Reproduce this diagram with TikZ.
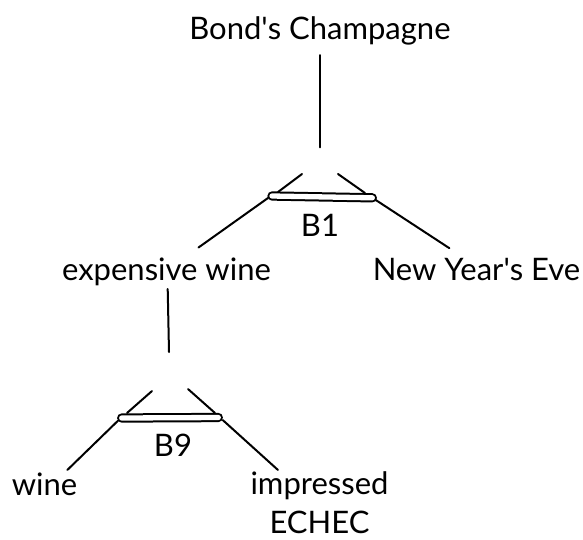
\documentclass[tikz,border=0pt]{standalone}
\usepackage{fontspec}
\setmainfont{Lato}
\begin{document}
\begin{tikzpicture}[x=1pt,y=-1pt,
  lbl/.style={anchor=base,inner sep=0pt,font=\fontsize{31}{39}\selectfont},
  wire/.style={line width=2pt,line cap=round},
  conjbar/.style={line width=2pt,double=white,double distance=5.3pt,line cap=round}]
\useasboundingbox (0,0) rectangle (583,539);

% text labels
\node[lbl] (champ) at (320,39) {Bond\textquotesingle s Champagne};
\node[lbl] (b1) at (320,236) {B1};
\node[lbl] (exp) at (166.5,280) {expensive wine};
\node[lbl] (nye) at (476.5,280) {New Year\textquotesingle s Eve};
\node[lbl] (b9) at (173,456.7) {B9};
\node[lbl] (wine) at (44.5,495) {wine};
\node[lbl,align=center,text depth=0pt] (imp) at (319.5,533) {impressed\\ECHEC};

% upper argument: junction points
\coordinate (v1a) at (320,55);
\coordinate (v1b) at (320,147.3);
\coordinate (s1la) at (302,174);
\coordinate (s1lb) at (278,192);
\coordinate (s1ra) at (338,174);
\coordinate (s1rb) at (365,193);
\coordinate (bar1l) at (272,196);
\coordinate (bar1r) at (372.3,197.8);
\coordinate (l1la) at (268,198);
\coordinate (l1lb) at (198.5,247.5);
\coordinate (l1ra) at (375,199.5);
\coordinate (l1rb) at (449.4,248.2);

% lower argument: junction points
\coordinate (v2a) at (167.7,289);
\coordinate (v2b) at (169,352);
\coordinate (s2la) at (152,391);
\coordinate (s2lb) at (127,413);
\coordinate (s2ra) at (188,389);
\coordinate (s2rb) at (215,413);
\coordinate (bar2l) at (121.7,418);
\coordinate (bar2r) at (218.3,417.5);
\coordinate (l2la) at (118,420.7);
\coordinate (l2lb) at (67.3,470);
\coordinate (l2ra) at (222.7,420);
\coordinate (l2rb) at (278,470);

% connectors
\draw[wire] (v1a) -- (v1b);
\draw[wire] (s1la) -- (s1lb);
\draw[wire] (s1ra) -- (s1rb);
\draw[wire] (l1la) -- (l1lb);
\draw[wire] (l1ra) -- (l1rb);
\draw[conjbar] (bar1l) -- (bar1r);

\draw[wire] (v2a) -- (v2b);
\draw[wire] (s2la) -- (s2lb);
\draw[wire] (s2ra) -- (s2rb);
\draw[wire] (l2la) -- (l2lb);
\draw[wire] (l2ra) -- (l2rb);
\draw[conjbar] (bar2l) -- (bar2r);
\end{tikzpicture}
\end{document}
